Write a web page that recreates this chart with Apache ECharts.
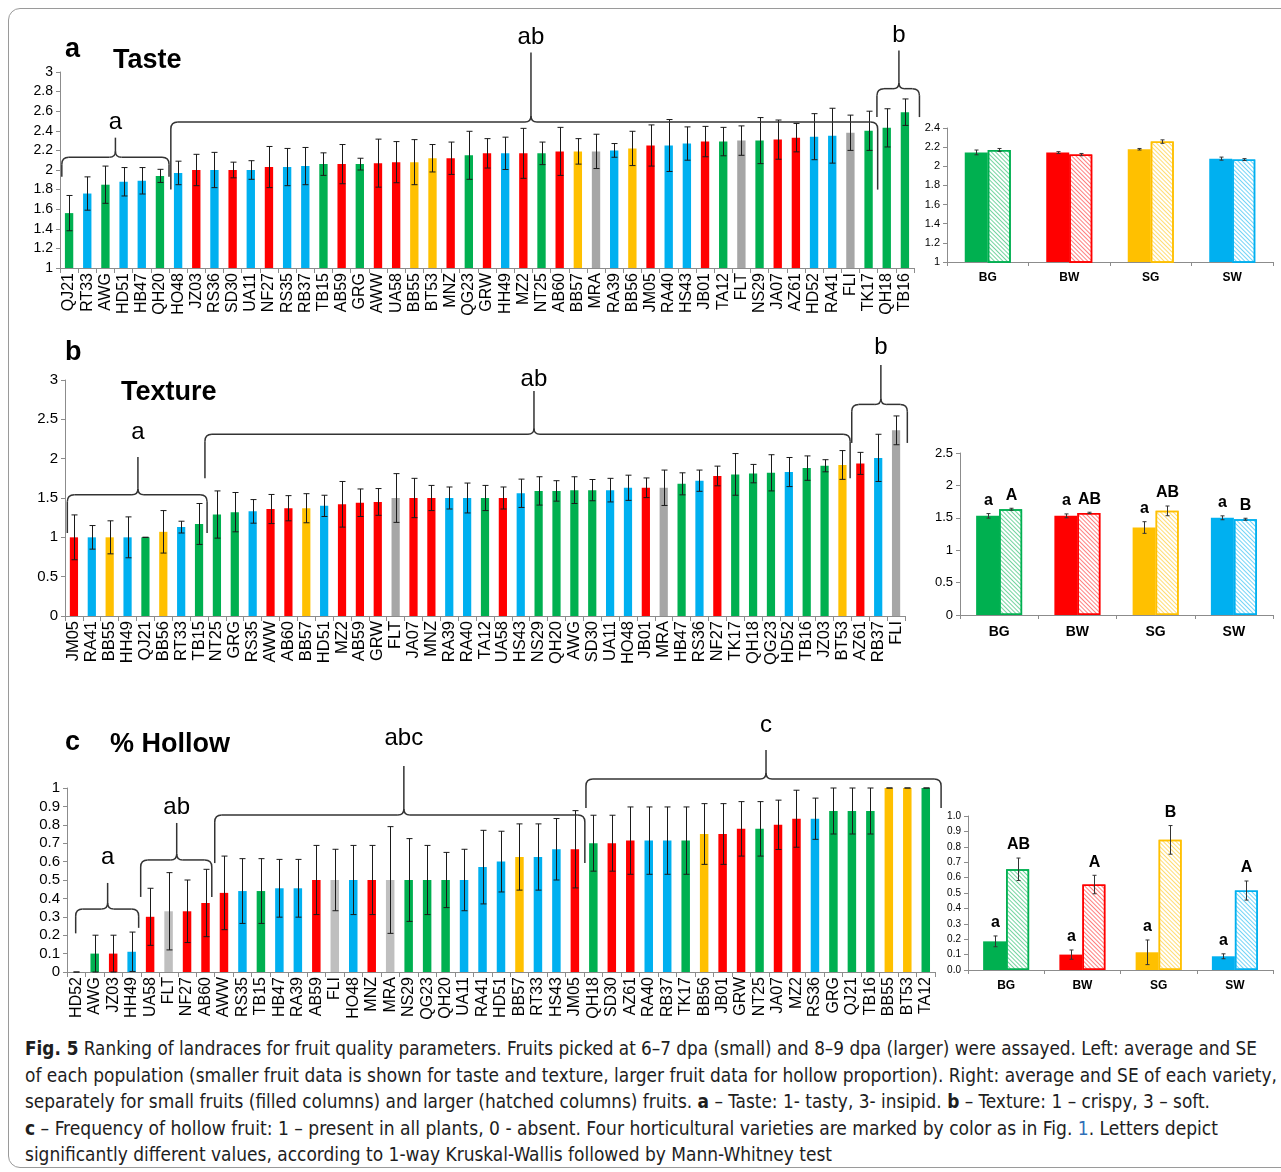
<!DOCTYPE html>
<html><head><meta charset="utf-8">
<script src="https://cdn.jsdelivr.net/npm/echarts@6/dist/echarts.min.js"></script>
<style>
html,body{margin:0;padding:0;background:#fff;width:1281px;height:1172px;overflow:hidden;position:relative;}
#frame{position:absolute;left:8px;top:8px;width:1300px;height:1160px;border:1px solid #9a9a9a;border-radius:12px;box-sizing:border-box;}
#chart{position:absolute;left:0;top:0;width:1281px;height:1030px;}
#caption{position:absolute;left:25px;top:1035px;font-family:"Liberation Sans Narrow","DejaVu Sans Condensed","Roboto Condensed","Noto Sans",sans-serif;font-size:20px;line-height:26.5px;color:#1e1e1e;}
#caption .ln{white-space:nowrap;height:26.5px;}
#caption .ln span{display:inline-block;transform-origin:0 50%;}
#caption a{color:#2f6fb7;text-decoration:none;}
</style>
</head><body>
<div id="frame"></div>
<div id="chart"></div>
<div id="caption">
<div class="ln" data-w="1232"><span><b>Fig. 5</b> Ranking of landraces for fruit quality parameters. Fruits picked at 6–7 dpa (small) and 8–9 dpa (larger) were assayed. Left: average and SE</span></div>
<div class="ln" data-w="1252"><span>of each population (smaller fruit data is shown for taste and texture, larger fruit data for hollow proportion). Right: average and SE of each variety,</span></div>
<div class="ln" data-w="1185"><span>separately for small fruits (filled columns) and larger (hatched columns) fruits. <b>a</b> – Taste: 1- tasty, 3- insipid. <b>b</b> – Texture: 1 – crispy, 3 – soft.</span></div>
<div class="ln" data-w="1193"><span><b>c</b> – Frequency of hollow fruit: 1 – present in all plants, 0 - absent. Four horticultural varieties are marked by color as in Fig. <a>1</a>. Letters depict</span></div>
<div class="ln" data-w="807"><span>significantly different values, according to 1-way Kruskal-Wallis followed by Mann-Whitney test</span></div>
</div>
<script>
// caption fit first
document.querySelectorAll('#caption .ln').forEach(ln=>{
  const sp=ln.querySelector('span');const w=sp.getBoundingClientRect().width;const target=+ln.dataset.w;
  if(w>0) sp.style.transform='scaleX('+(target/w)+')';
});

// ---------- DATA ----------
const tasteCats = ['QJ21','RT33','AWG','HD51','HB47','QH20','HO48','JZ03','RS36','SD30','UA11','NF27','RS35','RB37','TB15','AB59','GRG','AWW','UA58','BB55','BT53','MNZ','QG23','GRW','HH49','MZ2','NT25','AB60','BB57','MRA','RA39','BB56','JM05','RA40','HS43','JB01','TA12','FLT','NS29','JA07','AZ61','HD52','RA41','FLI','TK17','QH18','TB16'];
const tasteVals = [1.56,1.76,1.85,1.88,1.89,1.94,1.97,2.00,2.00,2.00,2.00,2.03,2.03,2.04,2.06,2.06,2.06,2.07,2.08,2.08,2.12,2.12,2.15,2.17,2.17,2.17,2.17,2.19,2.19,2.19,2.20,2.22,2.25,2.25,2.27,2.29,2.29,2.30,2.30,2.31,2.33,2.34,2.35,2.38,2.40,2.43,2.59];
const tasteErr = [0.18,0.17,0.19,0.145,0.135,0.067,0.12,0.16,0.18,0.08,0.095,0.21,0.19,0.19,0.115,0.2,0.06,0.245,0.21,0.23,0.14,0.165,0.245,0.15,0.165,0.255,0.115,0.245,0.13,0.175,0.07,0.175,0.21,0.265,0.17,0.155,0.145,0.15,0.235,0.2,0.145,0.235,0.28,0.18,0.2,0.195,0.135];
const tasteCol = ['G','B','G','B','B','G','B','R','B','R','B','R','B','B','G','R','G','R','R','Y','Y','R','G','R','B','R','G','R','Y','N','B','Y','R','B','B','R','G','N','G','R','R','B','B','N','G','G','G'];

const texCats = ['JM05','RA41','BB55','HH49','QJ21','BB56','RT33','TB15','NT25','GRG','RS35','AWW','AB60','BB57','HD51','MZ2','AB59','GRW','FLT','JA07','MNZ','RA39','RA40','TA12','UA58','HS43','NS29','QH20','AWG','SD30','UA11','HO48','JB01','MRA','HB47','RS36','NF27','TK17','QH18','QG23','HD52','TB16','JZ03','BT53','AZ61','RB37','FLI'];
const texVals = [1.00,1.00,1.00,1.00,1.00,1.07,1.13,1.17,1.29,1.32,1.33,1.36,1.37,1.37,1.40,1.42,1.44,1.45,1.50,1.50,1.50,1.50,1.50,1.50,1.50,1.56,1.59,1.59,1.60,1.60,1.60,1.63,1.63,1.63,1.68,1.72,1.78,1.80,1.81,1.82,1.83,1.88,1.91,1.92,1.94,2.01,2.36];
const texErr = [0.285,0.15,0.21,0.26,0,0.27,0.075,0.26,0.3,0.25,0.15,0.185,0.16,0.185,0.135,0.29,0.175,0.17,0.31,0.25,0.16,0.14,0.19,0.16,0.14,0.18,0.18,0.13,0.17,0.135,0.15,0.16,0.125,0.225,0.14,0.135,0.125,0.265,0.117,0.23,0.185,0.155,0.077,0.183,0.14,0.3,0.183];
const texCol = ['R','B','Y','B','G','Y','B','G','G','G','B','R','R','Y','B','R','R','R','N','R','R','B','B','G','R','B','G','G','G','G','B','B','R','N','G','B','R','G','G','G','B','G','G','Y','R','B','N'];

const holCats = ['HD52','AWG','JZ03','HH49','UA58','FLT','NF27','AB60','AWW','RS35','TB15','HB47','RA39','AB59','FLI','HO48','MNZ','MRA','NS29','QG23','QH20','UA11','RA41','HD51','BB57','RT33','HS43','JM05','QH18','SD30','AZ61','RA40','RB37','TK17','BB56','JB01','GRW','NT25','JA07','MZ2','RS36','GRG','QJ21','TB16','BB55','BT53','TA12'];
const holVals = [0,0.10,0.10,0.11,0.30,0.33,0.33,0.375,0.43,0.44,0.44,0.455,0.455,0.50,0.50,0.50,0.50,0.50,0.50,0.50,0.50,0.50,0.57,0.60,0.625,0.625,0.667,0.667,0.70,0.70,0.714,0.714,0.714,0.714,0.75,0.75,0.778,0.778,0.80,0.833,0.833,0.875,0.875,0.875,1,1,1];
const holErr = [0,0.1,0.1,0.107,0.155,0.21,0.17,0.183,0.2,0.176,0.176,0.157,0.157,0.188,0.167,0.188,0.188,0.29,0.225,0.188,0.15,0.167,0.2,0.165,0.18,0.18,0.167,0.21,0.152,0.152,0.183,0.183,0.183,0.183,0.165,0.165,0.148,0.148,0.134,0.155,0.112,0.125,0.125,0.125,0,0,0];
const holCol = ['B','G','R','B','R','L','R','R','R','B','G','B','B','R','L','B','R','L','G','G','G','B','B','B','Y','B','B','R','G','R','R','B','B','G','Y','R','R','G','R','R','B','G','G','G','Y','Y','G'];

const varieties = ['BG','BW','SG','SW'];
const varCol = ['G','R','Y','B'];
const tasteSmall = [2.145,2.143,2.178,2.08];
const tasteSmallErr = [0.025,0.01,0.008,0.016];
const tasteLarge = [2.171,2.122,2.258,2.07];
const tasteLargeErr = [0.015,0.012,0.018,0.01];
const texSmall = [1.53,1.53,1.35,1.50];
const texSmallErr = [0.035,0.03,0.09,0.03];
const texLarge = [1.632,1.576,1.607,1.478];
const texLargeErr = [0.015,0.01,0.075,0.015];
const texSmallLetters = ['a','a','a','a'];
const texLargeLetters = ['A','AB','AB','B'];
const holSmall = [0.186,0.10,0.115,0.089];
const holSmallErr = [0.035,0.03,0.08,0.016];
const holLarge = [0.654,0.555,0.845,0.516];
const holLargeErr = [0.073,0.06,0.093,0.062];
const holSmallLetters = ['a','a','a','a'];
const holLargeLetters = ['AB','A','B','A'];

// significance groups (brace spans in category units, heights in value units)
const braces = [
 {g:0,u1:0.1,u2:6.0,um:3.05,bar:2.13,e1:1.93,e2:1.93,tip:2.33,label:'a',ly:2.49},
 {g:0,u1:6.1,u2:45.0,um:25.92,bar:2.49,e1:1.80,e2:1.80,tip:3.2,label:'ab',ly:3.35},
 {g:0,u1:44.96,u2:47.3,um:46.17,bar:2.83,e1:2.54,e2:2.54,tip:3.22,label:'b',ly:3.37},
 {g:2,u1:0.13,u2:7.95,um:4.08,bar:1.54,e1:1.055,e2:1.055,tip:2.02,label:'a',ly:2.34},
 {g:2,u1:7.83,u2:43.93,um:26.24,bar:2.31,e1:1.75,e2:1.75,tip:2.86,label:'ab',ly:3.01},
 {g:2,u1:44.02,u2:47.13,um:45.65,bar:2.69,e1:2.2,e2:2.2,tip:3.19,label:'b',ly:3.41},
 {g:4,u1:0.47,u2:3.88,um:2.2,bar:0.342,e1:0.21,e2:0.24,tip:0.484,label:'a',ly:0.625},
 {g:4,u1:3.99,u2:7.84,um:5.94,bar:0.609,e1:0.408,e2:0.408,tip:0.81,label:'ab',ly:0.897},
 {g:4,u1:8.0,u2:28.04,um:18.24,bar:0.853,e1:0.592,e2:0.592,tip:1.12,label:'abc',ly:1.27},
 {g:4,u1:28.1,u2:47.33,um:37.85,bar:1.049,e1:0.891,e2:0.891,tip:1.207,label:'c',ly:1.34}
];

// ---------- STYLE ----------
const COL = {G:'#00B050',B:'#00B0F0',R:'#FF0000',Y:'#FFC000',N:'#A6A6A6',L:'#BFBFBF'};
const STRIPE = {G:'rgba(0,176,80,0.55)',B:'rgba(0,176,240,0.55)',R:'rgba(255,0,0,0.5)',Y:'rgba(255,192,0,0.55)'};
const FONT = 'Liberation Sans, Arial, sans-serif';
const AXC = '#8c8c8c';

const gridPos = [
 {left:60,top:72,width:854,height:196},
 {left:947,top:128,width:326,height:134},
 {left:65,top:380,width:840,height:236},
 {left:960,top:453,width:313,height:162},
 {left:67,top:788,width:868,height:184},
 {left:968,top:816,width:305,height:154}
];

function catAxis(g, cats, big, fs){
  return {type:'category', gridIndex:g, data:cats,
    axisLine:{lineStyle:{color:AXC,width:1}},
    axisTick:{show:true,length:big?5:4,lineStyle:{color:AXC}},
    axisLabel:big?{rotate:90,interval:0,fontSize:fs,color:'#000',fontFamily:FONT,margin:5}
                 :{interval:0,fontSize:fs,fontWeight:'bold',color:'#000',fontFamily:FONT,margin:10}};
}
function valAxis(g,min,max,interval,fs,fmt){
  return {type:'value',gridIndex:g,min:min,max:max,interval:interval,
    axisLine:{show:true,lineStyle:{color:AXC,width:1}},
    axisTick:{show:true,length:4,lineStyle:{color:AXC}},
    splitLine:{show:false},
    axisLabel:{fontSize:fs,color:'#000',fontFamily:FONT,margin:7,formatter:fmt}};
}
function errSeries(g, vals, errs, offset, capW, color, letters, lw){
  return {type:'custom', xAxisIndex:g, yAxisIndex:g, z:5, clip:false, silent:true,
    data: vals.map((v,i)=>[i,v,errs[i]]),
    encode:{x:0,y:1},
    renderItem:function(params, api){
      const i=api.value(0), v=api.value(1), e=api.value(2);
      const t=api.coord([i,v+e]), b=api.coord([i,v-e]);
      const x=Math.round(t[0]+offset)+0.5;
      const st={stroke:color,lineWidth:lw||1};
      const ch=[
        {type:'line',shape:{x1:x,y1:t[1],x2:x,y2:b[1]},style:st},
        {type:'line',shape:{x1:x-capW/2,y1:t[1],x2:x+capW/2,y2:t[1]},style:st},
        {type:'line',shape:{x1:x-capW/2,y1:b[1],x2:x+capW/2,y2:b[1]},style:st}
      ];
      if(letters){ch.push({type:'text',style:{text:letters[i],x:x,y:t[1]-5,align:'center',verticalAlign:'bottom',font:'bold 16px '+FONT,fill:'#000'}});}
      return {type:'group',children:ch};
    }};
}
function bigBars(g, vals, cols){
  return {type:'bar',xAxisIndex:g,yAxisIndex:g,barWidth:'46%',silent:true,
    data: vals.map((v,i)=>({value:v,itemStyle:{color:COL[cols[i]]}}))};
}
function smallBars(g, vals){
  return {type:'bar',xAxisIndex:g,yAxisIndex:g,barWidth:23,barGap:'0%',silent:true,
    data: vals.map((v,i)=>({value:v,itemStyle:{color:COL[varCol[i]]}}))};
}
function hatchBars(g, vals){
  return {type:'bar',xAxisIndex:g,yAxisIndex:g,barWidth:23,barGap:'0%',silent:true,
    data: vals.map((v,i)=>({value:v,itemStyle:{color:'#fff',borderColor:COL[varCol[i]],borderWidth:1.5,
      decal:{symbol:'rect',color:STRIPE[varCol[i]],dashArrayX:[1,0],dashArrayY:[1,1.6],rotation:Math.PI/4,symbolSize:1}}}))};
}

const chart = echarts.init(document.getElementById('chart'), null, {renderer:'canvas'});
const option = {
  animation:false,
  textStyle:{fontFamily:FONT},
  grid: gridPos.map(p=>Object.assign({containLabel:false},p)),
  xAxis:[catAxis(0,tasteCats,true,16),catAxis(1,varieties,false,12),catAxis(2,texCats,true,16.5),catAxis(3,varieties,false,14),catAxis(4,holCats,true,16),catAxis(5,varieties,false,12)],
  yAxis:[valAxis(0,1,3,0.2,14),valAxis(1,1,2.4,0.2,11),valAxis(2,0,3,0.5,15),valAxis(3,0,2.5,0.5,13),valAxis(4,0,1,0.1,15),valAxis(5,0,1,0.1,10,v=>v.toFixed(1))],
  series:[
    bigBars(0,tasteVals,tasteCol), errSeries(0,tasteVals,tasteErr,0,6,'#1a1a1a'),
    smallBars(1,tasteSmall), hatchBars(1,tasteLarge),
    errSeries(1,tasteSmall,tasteSmallErr,-11.5,4,'#333'), errSeries(1,tasteLarge,tasteLargeErr,11.5,4,'#333'),
    bigBars(2,texVals,texCol), errSeries(2,texVals,texErr,0,6,'#1a1a1a'),
    smallBars(3,texSmall), hatchBars(3,texLarge),
    errSeries(3,texSmall,texSmallErr,-11.5,4,'#333',texSmallLetters), errSeries(3,texLarge,texLargeErr,11.5,4,'#333',texLargeLetters),
    bigBars(4,holVals,holCol), errSeries(4,holVals,holErr,0,6,'#1a1a1a'),
    smallBars(5,holSmall), hatchBars(5,holLarge),
    errSeries(5,holSmall,holSmallErr,-11.5,4,'#333',holSmallLetters), errSeries(5,holLarge,holLargeErr,11.5,4,'#333',holLargeLetters)
  ]
};
chart.setOption(option);

// braces and titles
function xpx(g,u){const a=chart.convertToPixel({gridIndex:g},[0,0])[0],b=chart.convertToPixel({gridIndex:g},[1,0])[0];return a+(u-0.5)*(b-a);}
function ypx(g,v){return chart.convertToPixel({gridIndex:g},[0,v])[1];}
const gr=[];
const BS={stroke:'#333',lineWidth:1.5,fill:null};
function ln(x1,y1,x2,y2){gr.push({type:'line',shape:{x1,y1,x2,y2},style:BS,silent:true,z:10});}
function qc(x1,y1,cx,cy,x2,y2){gr.push({type:'bezierCurve',shape:{x1,y1,x2,y2,cpx1:cx,cpy1:cy},style:BS,silent:true,z:10});}
braces.forEach(br=>{
  const x1=xpx(br.g,br.u1),x2=xpx(br.g,br.u2),xm=xpx(br.g,br.um);
  const yb=ypx(br.g,br.bar),y1=ypx(br.g,br.e1),y2=ypx(br.g,br.e2),yt=ypx(br.g,br.tip),yl=ypx(br.g,br.ly);
  const r=7, rt=6;
  ln(x1,y1,x1,yb+r); qc(x1,yb+r,x1,yb,x1+r,yb); ln(x1+r,yb,xm-rt,yb);
  qc(xm-rt,yb,xm,yb,xm,yb-rt); ln(xm,yb-rt,xm,yt); qc(xm,yb-rt,xm,yb,xm+rt,yb);
  ln(xm+rt,yb,x2-r,yb); qc(x2-r,yb,x2,yb,x2,yb+r); ln(x2,yb+r,x2,y2);
  gr.push({type:'text',x:xm,y:yl,style:{text:br.label,font:'24px '+FONT,fill:'#000',align:'center',verticalAlign:'middle'},silent:true,z:10});
});
const titles=[['a',65,50],['Taste',113,61],['b',65,353],['Texture',121,393],['c',65,743],['% Hollow',110,745]];
titles.forEach(t=>gr.push({type:'text',x:t[1],y:t[2],style:{text:t[0],font:'bold 27px '+FONT,fill:'#000',align:'left',verticalAlign:'middle'},silent:true,z:10}));
chart.setOption({graphic:gr});
</script>
</body></html>
